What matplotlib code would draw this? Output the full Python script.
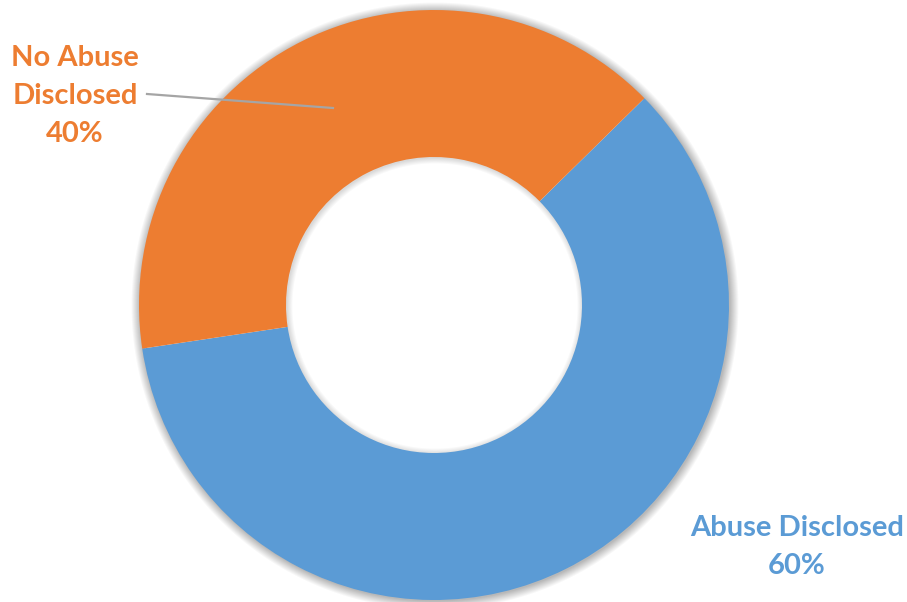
import numpy as np
import matplotlib
matplotlib.use("Agg")
import matplotlib.pyplot as plt

labels = ["Abuse Disclosed", "No Abuse Disclosed"]
values = [60, 40]
colors = ["#5B9BD5", "#ED7D31"]

W, H = 907, 602
cx, cy = 434, 297
R = 295
hole = 148

fig = plt.figure(figsize=(W / 100, H / 100), dpi=100)
ax = fig.add_axes([0, 0, 1, 1])

# soft shadow round the ring
xx, yy = np.meshgrid(np.arange(W) + 0.5, np.arange(H) + 0.5)
d = np.hypot(xx - cx - 1, yy - cy + 1)
outer = 0.28 * np.clip(1 - (d - R) / 9, 0, 1) * (d > R - 2)
inner = 0.15 * np.clip(1 - (hole - d) / 6, 0, 1) * (d < hole + 2)
shadow = np.zeros((H, W, 4))
shadow[..., 3] = np.maximum(outer, inner)
ax.imshow(shadow, extent=(0, W, 0, H), origin="lower", zorder=0)

ax.pie(values, colors=colors, startangle=44.5, counterclock=False,
       center=(cx, cy), radius=R,
       wedgeprops=dict(width=R - hole, edgecolor="none"))

ax.set_xlim(0, W)
ax.set_ylim(0, H)
ax.set_aspect("auto")
ax.axis("off")

font = dict(family="Lato", fontweight="bold", fontsize=21,
            ha="center", va="center", linespacing=1.58)

ax.plot([147, 333], [H - 94, H - 108], color="#A5A5A5", lw=1.6, zorder=5)
ax.text(75, H - 96, "No Abuse\nDisclosed\n%d%%" % values[1],
        color=colors[1], **font)
ax.text(797, H - 547, "Abuse Disclosed\n%d%%" % values[0],
        color=colors[0], **font)

fig.savefig("out.png", dpi=100)
